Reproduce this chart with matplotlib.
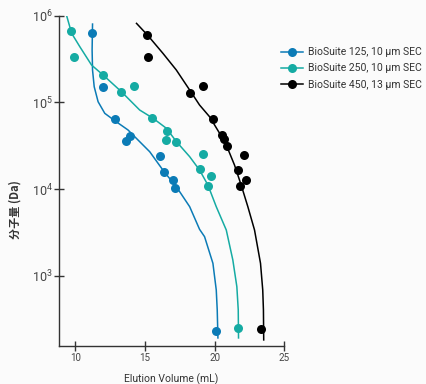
import numpy as np
import matplotlib
matplotlib.use('Agg')
import matplotlib.pyplot as plt
from matplotlib.ticker import NullLocator

vol_125 = [11.18, 11.95, 12.85, 13.60, 13.91, 16.11, 16.37, 17.04, 17.18, 20.12]
mw_125 = [6.37e5, 1.49e5, 6.38e4, 3.59e4, 4.09e4, 2.39e4, 1.59e4, 1.26e4, 1.03e4, 233]

vol_250 = [9.68, 9.91, 11.99, 13.31, 14.22, 15.51, 16.61, 16.49, 17.23, 19.14, 18.92, 19.76, 19.55, 21.67]
mw_250 = [6.67e5, 3.34e5, 2.07e5, 1.32e5, 1.55e5, 6.6e4, 4.65e4, 3.72e4, 3.49e4, 2.52e4, 1.69e4, 1.43e4, 1.10e4, 250]

vol_450 = [15.15, 15.22, 18.26, 19.16, 19.86, 20.52, 20.65, 20.88, 22.08, 21.65, 22.29, 21.81, 23.32]
mw_450 = [6.04e5, 3.34e5, 1.27e5, 1.55e5, 6.44e4, 4.21e4, 3.75e4, 3.14e4, 2.47e4, 1.65e4, 1.28e4, 1.09e4, 245]

# Calibration curves (volume, log10 MW)
curve_vol_125 = [11.23, 11.20, 11.23, 11.35, 11.63, 12.11, 12.76, 13.78, 15.34, 16.37, 17.25,
                 18.21, 18.92, 19.28, 19.88, 20.12, 20.19, 20.24]
curve_logmw_125 = [5.904, 5.604, 5.374, 5.181, 5.008, 4.874, 4.797, 4.682, 4.431, 4.201, 4.028,
                   3.797, 3.536, 3.451, 3.144, 2.836, 2.606, 2.283]

curve_vol_250 = [9.37, 9.73, 10.32, 11.16, 11.99, 13.31, 14.62, 15.58, 16.54, 17.26, 18.21,
                 18.92, 19.52, 20.12, 20.84, 21.31, 21.60, 21.70, 21.72]
curve_logmw_250 = [6.0, 5.797, 5.642, 5.431, 5.316, 5.123, 4.912, 4.817, 4.701, 4.547, 4.374,
                   4.220, 4.047, 3.797, 3.528, 3.183, 2.874, 2.606, 2.283]

curve_vol_450 = [14.39, 15.18, 16.29, 17.25, 18.21, 18.92, 19.64, 20.36, 20.84, 21.43, 21.91,
                 22.39, 22.87, 23.30, 23.46, 23.51, 23.53]
curve_logmw_450 = [5.912, 5.777, 5.566, 5.374, 5.143, 4.970, 4.835, 4.644, 4.509, 4.278, 4.047,
                   3.797, 3.528, 3.144, 2.836, 2.606, 2.260]

labels = ['BioSuite 125, 10 \u03bcm SEC', 'BioSuite 250, 10 \u03bcm SEC', 'BioSuite 450, 13 \u03bcm SEC']
colors = ['#0b7bb6', '#15aba3', '#000000']

base = 'Roboto'
plt.rcParams['font.family'] = [base, 'Noto Sans CJK SC', 'DejaVu Sans']
plt.rcParams['mathtext.fontset'] = 'custom'
plt.rcParams['mathtext.rm'] = base
plt.rcParams['mathtext.it'] = base

bg = '#fbfbfb'
fig = plt.figure(figsize=(4.27, 3.84), dpi=100, facecolor=bg)
ax = fig.add_axes([0.1375, 0.099, 0.528, 0.860])
ax.set_facecolor(bg)

series = [
    (vol_125, mw_125, curve_vol_125, curve_logmw_125),
    (vol_250, mw_250, curve_vol_250, curve_logmw_250),
    (vol_450, mw_450, curve_vol_450, curve_logmw_450),
]
handles = []
for (v, m, cv, cl), c, lab in zip(series, colors, labels):
    ax.plot(cv, 10 ** np.array(cl), color=c, lw=1.1, solid_joinstyle='round')
    ax.plot(v, m, 'o', color=c, ms=6.5, mec='none')
    h, = ax.plot([], [], '-o', color=c, lw=1.1, ms=6.5, mec='none', label=lab)
    handles.append(h)

ax.set_yscale('log')
ax.set_xlim(8.8, 25)
ax.set_ylim(10 ** 2.19, 1e6)
ax.set_xticks([10, 15, 20, 25])
ax.set_yticks([1e3, 1e4, 1e5, 1e6])
ax.yaxis.set_minor_locator(NullLocator())
for s in ['top', 'right']:
    ax.spines[s].set_visible(False)
for s in ['left', 'bottom']:
    ax.spines[s].set_color('#333333')
    ax.spines[s].set_linewidth(1.0)
ax.tick_params(direction='inout', length=7.2, width=1.0, color='#333333',
               labelcolor='#444444')
ax.tick_params(axis='x', labelsize=7, pad=1.5)
ax.tick_params(axis='y', labelsize=9, pad=0.5)

ax.set_xlabel('Elution Volume (mL)', fontsize=7.5, color='#333333')
ax.xaxis.set_label_coords(0.5, -0.082)
ax.set_ylabel('分子量 (Da)', fontsize=8, color='#333333', fontweight='bold',
              family=['Noto Sans CJK SC', 'DejaVu Sans'])
ax.yaxis.set_label_coords(-0.163, 0.412)

fig.legend(handles=handles, loc='upper left', bbox_to_anchor=(0.657, 0.877),
           frameon=False, fontsize=7.5, handlelength=2.2, handletextpad=0.45,
           labelspacing=0.6, borderpad=0, borderaxespad=0, labelcolor='#333333')

fig.savefig('out.png', dpi=100, facecolor=fig.get_facecolor())
